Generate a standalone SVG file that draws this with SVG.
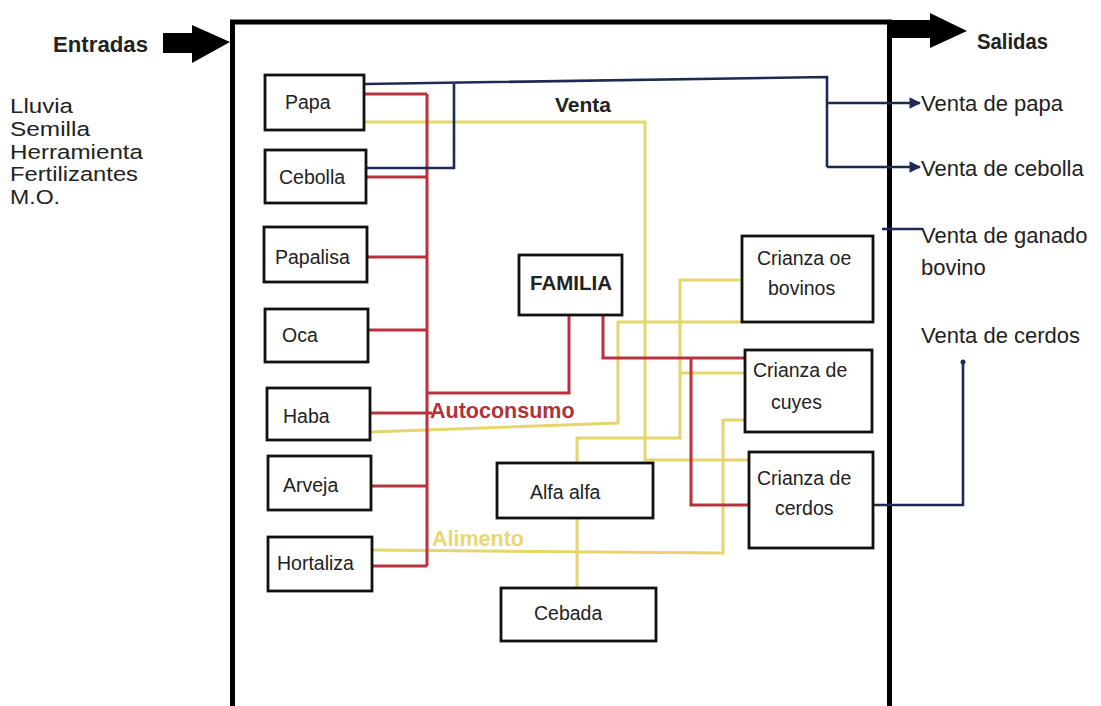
<svg xmlns="http://www.w3.org/2000/svg" width="1101" height="706" viewBox="0 0 1101 706">
<defs>
<style>
.t{font-family:"Liberation Sans",Arial,sans-serif;fill:#222}
.n{font-size:19.5px}
.lst{font-size:20.5px}
.out{font-size:22px}
.b{font-weight:bold}
.box{fill:#fff;stroke:#111;stroke-width:2.8}
.red{fill:none;stroke:#b7323c;stroke-width:3}
.yel{fill:none;stroke:#e6d56c;stroke-width:3}
.blu{fill:none;stroke:#1e2a55;stroke-width:2.6}
</style>
<marker id="ah" viewBox="0 0 10 10" refX="9" refY="5" markerWidth="4.5" markerHeight="4.5" orient="auto" markerUnits="strokeWidth">
<path d="M0,0 L10,5 L0,10 z" fill="#1e2a55"/>
</marker>
</defs>
<rect width="1101" height="706" fill="#fff"/>

<g id="frame">
<rect x="232.5" y="22" width="657" height="720" fill="none" stroke="#000" stroke-width="5"/>
<path d="M163,33 H192 V25 L230,42 L192,63 V53 H163 z" fill="#000"/>
<path d="M890,20 H930 V13 L967,31 L930,48 V38 H890 z" fill="#000"/>
</g>

<g id="inputs-text">
<text class="t b" x="53" y="52" font-size="22" textLength="95" lengthAdjust="spacingAndGlyphs">Entradas</text>
<text class="t b" x="977" y="49" font-size="22" textLength="71" lengthAdjust="spacingAndGlyphs">Salidas</text>
<text class="t lst" x="10" y="113" textLength="63" lengthAdjust="spacingAndGlyphs">Lluvia</text>
<text class="t lst" x="10" y="136" textLength="80" lengthAdjust="spacingAndGlyphs">Semilla</text>
<text class="t lst" x="10" y="159" textLength="133" lengthAdjust="spacingAndGlyphs">Herramienta</text>
<text class="t lst" x="10" y="181" textLength="128" lengthAdjust="spacingAndGlyphs">Fertilizantes</text>
<text class="t lst" x="10" y="204" textLength="50" lengthAdjust="spacingAndGlyphs">M.O.</text>
</g>

<g id="connectors">
<path class="yel" d="M364,122 H645 V460 H749"/>
<path class="yel" d="M370,432 L618,423 V322 H742"/>
<path class="yel" d="M742,280 H680 V438 H577 V588"/>
<path class="yel" d="M680,373 H745"/>
<path class="yel" d="M372,550 L723,553 V420 H745"/>
<path class="red" d="M427,94 V566"/>
<path class="red" d="M364,94 H427 M366,177 H427 M367,257 H427 M368,330 H427 M370,413 H432 M371,486 H427 M372,566 H427"/>
<path class="red" d="M427,393 H569 V315"/>
<path class="red" d="M603,315 V358 H745"/>
<path class="red" d="M691,358 V505 H749"/>
<path class="blu" d="M365,84 L827,77 V167"/>
<path class="blu" d="M366,168 H454 V84"/>
<path class="blu" d="M827,103 H920" marker-end="url(#ah)"/>
<path class="blu" d="M827,167 H920" marker-end="url(#ah)"/>
<path class="blu" d="M882,229 H922"/>
<path class="blu" d="M873,505 H963 V362"/>
<circle cx="963" cy="362" r="2.5" fill="#1e2a55"/>
</g>

<g id="labels">
<text class="t b" x="555" y="112" font-size="21" fill="#2a2a3a">Venta</text>
<text class="t b" x="430" y="418" font-size="21.5" style="fill:#b0323a">Autoconsumo</text>
<text class="t b" x="432" y="546" font-size="21.5" style="fill:#e8d870">Alimento</text>
</g>

<g id="papa"><rect class="box" x="265" y="75" width="99" height="55"/><text class="t n" x="285" y="109">Papa</text></g>
<g id="cebolla"><rect class="box" x="265" y="150" width="101" height="53"/><text class="t n" x="279" y="184">Cebolla</text></g>
<g id="papalisa"><rect class="box" x="264" y="227" width="103" height="55"/><text class="t n" x="275" y="264">Papalisa</text></g>
<g id="oca"><rect class="box" x="265" y="309" width="103" height="53"/><text class="t n" x="282" y="342">Oca</text></g>
<g id="haba"><rect class="box" x="267" y="388" width="103" height="52"/><text class="t n" x="283" y="423">Haba</text></g>
<g id="arveja"><rect class="box" x="268" y="456" width="103" height="54"/><text class="t n" x="283" y="492">Arveja</text></g>
<g id="hortaliza"><rect class="box" x="268" y="537" width="104" height="54"/><text class="t n" x="277" y="570">Hortaliza</text></g>
<g id="familia"><rect class="box" x="519" y="255" width="103" height="60"/><text class="t b" x="530" y="290" font-size="20.5">FAMILIA</text></g>
<g id="alfaalfa"><rect class="box" x="497" y="463" width="156" height="55"/><text class="t n" x="530" y="499">Alfa alfa</text></g>
<g id="cebada"><rect class="box" x="501" y="588" width="155" height="53"/><text class="t n" x="534" y="620">Cebada</text></g>
<g id="bovinos"><rect class="box" x="742" y="236" width="131" height="86"/><text class="t n" x="757" y="265">Crianza oe</text><text class="t n" x="768" y="295">bovinos</text></g>
<g id="cuyes"><rect class="box" x="745" y="350" width="127" height="82"/><text class="t n" x="753" y="377">Crianza de</text><text class="t n" x="771" y="409">cuyes</text></g>
<g id="cerdos"><rect class="box" x="749" y="452" width="124" height="96"/><text class="t n" x="757" y="485">Crianza de</text><text class="t n" x="775" y="515">cerdos</text></g>

<g id="outputs-text">
<text class="t out" x="921" y="111">Venta de papa</text>
<text class="t out" x="921" y="176">Venta de cebolla</text>
<text class="t out" x="921" y="243">Venta de ganado</text>
<text class="t out" x="921" y="275">bovino</text>
<text class="t out" x="921" y="343">Venta de cerdos</text>
</g>
</svg>
